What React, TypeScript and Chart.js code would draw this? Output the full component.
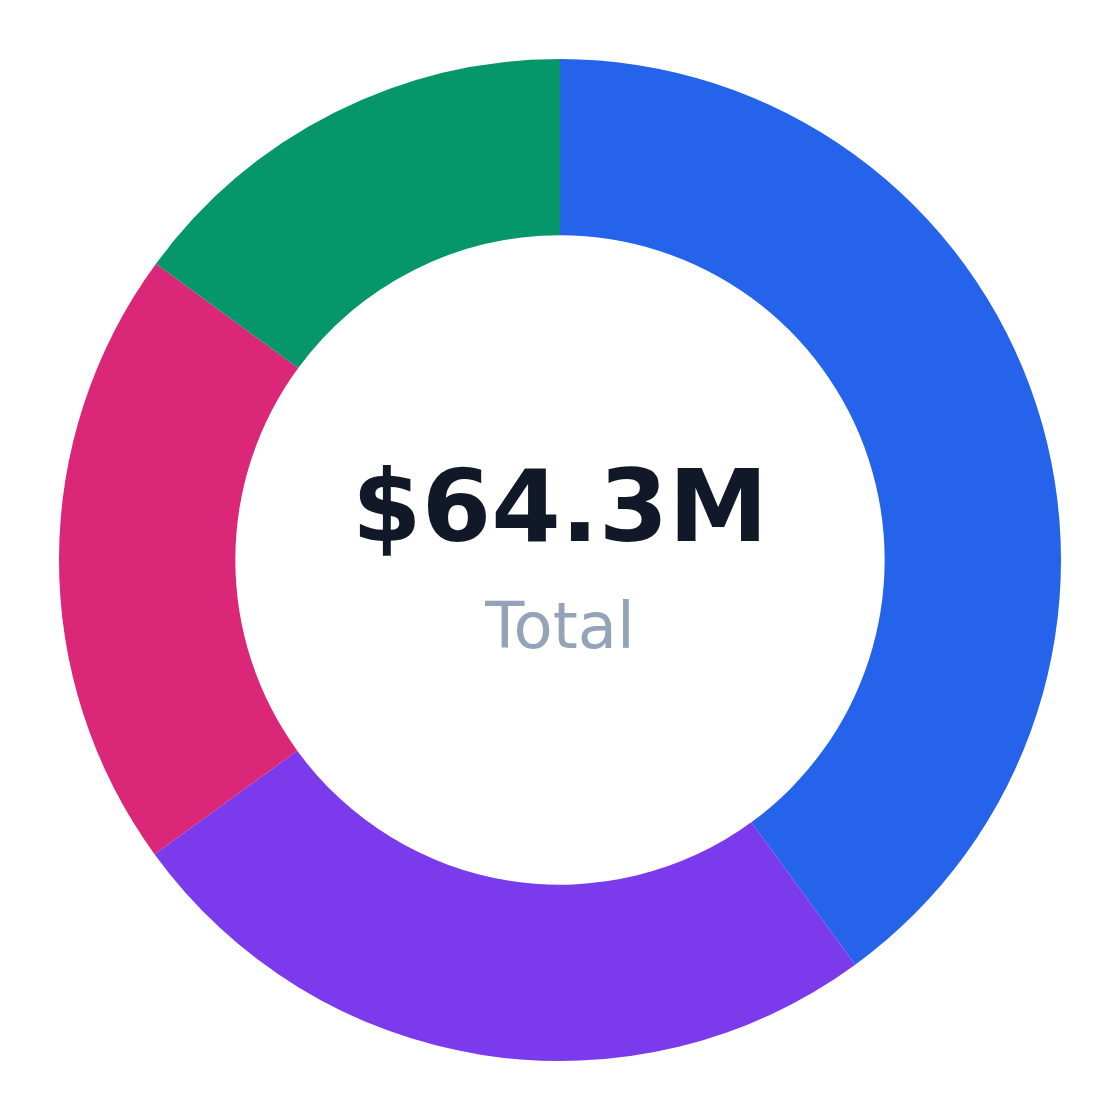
import { useEffect, useRef } from "react"
import { Chart, registerables, type Plugin } from "chart.js"

Chart.register(...registerables)

const segmentLabels = ["Segment A", "Segment B", "Segment C", "Segment D"]
const segmentValues = [25.7, 16.1, 12.9, 9.6]
const segmentColors = ["#2563EB", "#7C3AED", "#DB2777", "#059669"]
const totalLabel = "$64.3M"
const subLabel = "Total"

// draws the total in the hole of the doughnut
const centerText: Plugin<"doughnut"> = {
  id: "centerText",
  afterDraw(chart) {
    const meta = chart.getDatasetMeta(0)
    const arc = meta.data[0] as any
    if (!arc) return
    const { x, y } = arc
    const ctx = chart.ctx
    ctx.save()
    ctx.textAlign = "center"
    ctx.textBaseline = "alphabetic"
    ctx.fillStyle = "#111827"
    ctx.font = "bold 100px 'DejaVu Sans'"
    ctx.fillText(totalLabel, x, y - 19)
    ctx.fillStyle = "#94A3B8"
    ctx.font = "64px 'DejaVu Sans'"
    ctx.fillText(subLabel, x, y + 88)
    ctx.restore()
  },
}

export default function App() {
  const canvasRef = useRef<HTMLCanvasElement>(null)
  const chartRef = useRef<Chart | null>(null)

  useEffect(() => {
    if (!canvasRef.current) return
    const ctx = canvasRef.current.getContext("2d")
    if (!ctx) return

    if (chartRef.current) {
      chartRef.current.destroy()
    }

    chartRef.current = new Chart(ctx, {
      type: "doughnut",
      data: {
        labels: segmentLabels,
        datasets: [
          {
            data: segmentValues,
            backgroundColor: segmentColors,
            borderWidth: 0,
          },
        ],
      },
      options: {
        responsive: true,
        maintainAspectRatio: false,
        animation: false,
        cutout: "64.8%",
        layout: { padding: 51 },
        plugins: {
          legend: { display: false },
          tooltip: { enabled: false },
        },
      },
      plugins: [centerText],
    })

    return () => {
      if (chartRef.current) {
        chartRef.current.destroy()
        chartRef.current = null
      }
    }
  }, [])

  return (
    <div style={{ width: 1104, height: 1104, position: "relative" }}>
      <canvas ref={canvasRef}></canvas>
    </div>
  )
}
